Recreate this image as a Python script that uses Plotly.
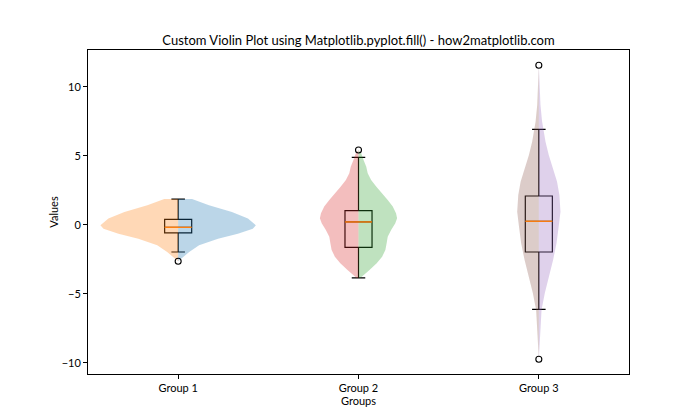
import plotly.graph_objects as go

# ---------------- data ----------------
groups = ["Group 1", "Group 2", "Group 3"]
positions = [1, 2, 3]

# violin profiles: value grid (top -> bottom) and half-width (density, x units)
g1_vals = [1.88, 1.43, 0.94, 0.46, -0.02, -0.27, -0.63, -0.99, -1.47, -1.96, -2.44, -2.63]
g1_half = [0.077, 0.171, 0.298, 0.387, 0.431, 0.414, 0.331, 0.221, 0.116, 0.061, 0.017, 0.0]

g2_vals = [5.43, 5.20, 4.71, 4.22, 3.75, 3.26, 2.78, 2.30, 1.81, 1.33, 0.85, 0.49, 0.12,
           -0.36, -0.85, -1.33, -1.81, -2.30, -2.78, -3.26, -3.62, -3.84]
g2_half = [0.0, 0.015, 0.028, 0.043, 0.051, 0.070, 0.098, 0.131, 0.162, 0.190, 0.208, 0.214, 0.204,
           0.181, 0.162, 0.156, 0.149, 0.131, 0.101, 0.061, 0.028, 0.010]

g3_vals = [11.57, 10.51, 8.70, 7.49, 6.76, 6.04, 5.07, 4.11, 3.14, 2.17, 0.96, -0.12,
           -1.33, -2.54, -3.75, -4.95, -6.16, -7.37, -8.57, -9.73]
g3_half = [0.0, 0.003, 0.009, 0.018, 0.028, 0.037, 0.055, 0.079, 0.101, 0.114, 0.120, 0.110,
           0.098, 0.079, 0.055, 0.033, 0.015, 0.009, 0.004, 0.0]

# box statistics
box_low = [-1.96, -3.84, -6.11]
box_q1 = [-0.58, -1.62, -1.96]
box_med = [-0.17, 0.22, 0.27]
box_q3 = [0.41, 1.04, 2.10]
box_high = [1.88, 4.90, 6.93]
outlier_x = [1, 2, 3, 3]
outlier_y = [-2.63, 5.43, 11.57, -9.73]

left_colors = ["rgba(255,127,14,0.3)", "rgba(214,39,40,0.3)", "rgba(140,86,75,0.3)"]
right_colors = ["rgba(31,119,180,0.3)", "rgba(44,160,44,0.3)", "rgba(148,103,189,0.3)"]

profiles = [(g1_vals, g1_half), (g2_vals, g2_half), (g3_vals, g3_half)]

fig = go.Figure()

for pos, (vals, half), lc, rc in zip(positions, profiles, left_colors, right_colors):
    for sign, col in ((-1, lc), (1, rc)):
        xs = [pos] + [pos + sign * h for h in half] + [pos]
        ys = [vals[0]] + list(vals) + [vals[-1]]
        fig.add_trace(go.Scatter(x=xs, y=ys, mode="lines", fill="toself",
                                 fillcolor=col, line=dict(width=0, color=col),
                                 hoverinfo="skip", showlegend=False))

BW = 0.15
for i, pos in enumerate(positions):
    fig.add_trace(go.Box(x=[pos], q1=[box_q1[i]], median=[box_med[i]], q3=[box_q3[i]],
                         lowerfence=[box_low[i]], upperfence=[box_high[i]],
                         width=BW, whiskerwidth=0.5, boxpoints=False,
                         fillcolor="rgba(0,0,0,0)", line=dict(color="black", width=1.2),
                         showlegend=False))
    fig.add_trace(go.Scatter(x=[pos - BW / 2, pos + BW / 2], y=[box_med[i], box_med[i]],
                             mode="lines", line=dict(color="#ff7f0e", width=1.4),
                             showlegend=False, hoverinfo="skip"))

fig.add_trace(go.Scatter(x=outlier_x, y=outlier_y, mode="markers",
                         marker=dict(symbol="circle-open", size=6, color="black",
                                     line=dict(width=1.1, color="black")),
                         showlegend=False))

W, H = 692, 412  # page body has an 8px margin
font = "Lato, Noto Sans, DejaVu Sans, sans-serif"
fig.update_layout(
    width=W, height=H,
    margin=dict(l=80, r=W - 621, t=42, b=H - 366),
    paper_bgcolor="white", plot_bgcolor="white",
    font=dict(family=font, size=11, color="black"),
    title=dict(text="Custom Violin Plot using Matplotlib.pyplot.fill() - how2matplotlib.com",
               x=(350.5 / W), xanchor="center", y=1 - 32 / H, yanchor="middle",
               font=dict(size=13, color="black")),
    showlegend=False,
)
fig.update_xaxes(range=[0.5, 3.5], tickvals=positions, ticktext=groups,
                 showline=True, linecolor="black", linewidth=1, mirror=True,
                 ticks="outside", ticklen=4, tickcolor="black", showgrid=False, zeroline=False,
                 title=dict(text="Groups", standoff=3, font=dict(size=11)))
fig.update_yaxes(range=[-10.8, 12.68], tickvals=[-10, -5, 0, 5, 10],
                 showline=True, linecolor="black", linewidth=1, mirror=True,
                 ticks="outside", ticklen=4, tickcolor="black", showgrid=False, zeroline=False,
                 title=dict(text="Values", standoff=0, font=dict(size=11)))

fig.write_html("out.html")
